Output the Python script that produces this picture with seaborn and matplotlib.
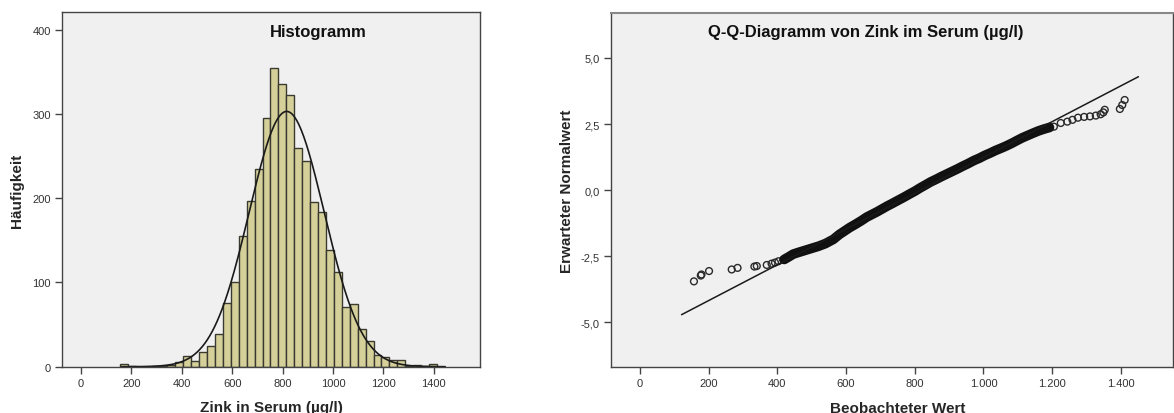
import numpy as np
import pandas as pd
import matplotlib
matplotlib.use("Agg")
import matplotlib.pyplot as plt
import seaborn as sns

# ---------------- data ----------------
# Histogram: bin start / width and counts per bin
hist_bin_start = 154.4
hist_bin_width = 31.44
hist_counts = [3, 1, 0, 0, 1, 1, 2, 5, 13, 7, 18, 24, 39, 76, 100, 155, 197, 235,
               295, 354, 336, 323, 260, 244, 195, 184, 138, 112, 71, 74, 45, 30,
               14, 12, 8, 8, 1, 2, 1, 3]
# fitted normal curve parameters
norm_mean = 816.0
norm_sd = 148.5
norm_range = [160, 1445]

hist_xticks = [0, 200, 400, 600, 800, 1000, 1200, 1400]
hist_xticklabels = ["0", "200", "400", "600", "800", "1000", "1200", "1400"]
hist_yticks = [0, 100, 200, 300, 400]
hist_yticklabels = ["0", "100", "200", "300", "400"]

# Q-Q plot: observed value vs expected normal value
qq_observed = [157, 177, 179, 201, 267, 284, 333, 340, 369, 383, 393, 403, 417,
               420, 432, 446, 460, 480, 500, 520, 540, 563, 580, 595, 610, 626,
               645, 660, 675, 690, 705, 720, 735, 752, 768, 783, 800, 815, 830,
               846, 862, 877, 893, 909, 925, 940, 956, 972, 988, 1003, 1019,
               1035, 1050, 1066, 1082, 1098, 1113, 1129, 1145, 1160, 1176, 1192,
               1205, 1225, 1244, 1259, 1275, 1293, 1310, 1327, 1341, 1349, 1353,
               1397, 1404, 1411]
qq_expected = [-3.45, -3.23, -3.19, -3.06, -3.00, -2.94, -2.89, -2.87, -2.83,
               -2.78, -2.74, -2.69, -2.63,
               -2.62, -2.53, -2.42, -2.36, -2.28, -2.20, -2.12, -2.02, -1.86,
               -1.68, -1.55, -1.42, -1.30, -1.15, -1.02, -0.92, -0.82, -0.71,
               -0.60, -0.50, -0.38, -0.27, -0.16, -0.04, 0.08, 0.19, 0.31, 0.41,
               0.51, 0.61, 0.71, 0.81, 0.91, 1.01, 1.12, 1.21, 1.31, 1.40, 1.50,
               1.58, 1.67, 1.77, 1.88, 1.98, 2.07, 2.16, 2.24, 2.31, 2.37,
               2.40, 2.54, 2.59, 2.66, 2.74, 2.77, 2.79, 2.82, 2.87, 2.94, 3.04,
               3.07, 3.22, 3.41]
# dense part of the point cloud (drawn as a solid band)
qq_dense_from = 420
qq_dense_to = 1192
# reference line end points
qq_line_x = [121, 1451]
qq_line_y = [-4.71, 4.29]

qq_xticks = [0, 200, 400, 600, 800, 1000, 1200, 1400]
qq_xticklabels = ["0", "200", "400", "600", "800", "1.000", "1.200", "1.400"]
qq_yticks = [-5.0, -2.5, 0.0, 2.5, 5.0]
qq_yticklabels = ["-5,0", "-2,5", "0,0", "2,5", "5,0"]

# ---------------- style ----------------
sns.set_style("ticks")
plt.rcParams["font.family"] = ["Liberation Sans", "DejaVu Sans"]

BG = "#F0F0F0"
FRAME = "#444444"
TICKTXT = "#333333"
BAR = "#D5D09A"
BAREDGE = "#3A3A30"

fig = plt.figure(figsize=(11.74, 4.14), dpi=100)
W, H = 1174.0, 414.0
ax1 = fig.add_axes([62 / W, (H - 367.7) / H, 418 / W, 354.4 / H])
ax2 = fig.add_axes([610.7 / W, (H - 368.3) / H, 562.3 / W, 354.3 / H])


def style_axes(ax):
    ax.set_facecolor(BG)
    for s in ax.spines.values():
        s.set_color(FRAME)
        s.set_linewidth(1.0)
    ax.tick_params(axis="both", direction="out", length=5, width=1,
                   color=FRAME, labelsize=8, labelcolor=TICKTXT, pad=3,
                   top=False, right=False)


# ---------------- histogram ----------------
n_bins = len(hist_counts)
centers = [hist_bin_start + hist_bin_width * (i + 0.5) for i in range(n_bins)]
hist_df = pd.DataFrame({"value": centers, "count": hist_counts})
sns.histplot(data=hist_df, x="value", weights="count",
             binwidth=hist_bin_width,
             binrange=(hist_bin_start, hist_bin_start + hist_bin_width * n_bins),
             ax=ax1, color=BAR, edgecolor=BAREDGE, linewidth=1.0, alpha=1.0)

xs = np.linspace(norm_range[0], norm_range[1], 400)
n_total = float(np.sum(hist_counts))
ys = n_total * hist_bin_width * np.exp(-0.5 * ((xs - norm_mean) / norm_sd) ** 2) / (norm_sd * np.sqrt(2 * np.pi))
sns.lineplot(x=xs, y=ys, ax=ax1, color="#1a1a1a", linewidth=1.2, sort=False)

style_axes(ax1)
ax1.set_xlim(-75.4, 1583)
ax1.set_ylim(0, 420.6)
ax1.set_xticks(hist_xticks)
ax1.set_xticklabels(hist_xticklabels)
ax1.set_yticks(hist_yticks)
ax1.set_yticklabels(hist_yticklabels)
ax1.set_xlabel("Zink in Serum (µg/l)", fontsize=11, fontweight="bold")
ax1.set_ylabel("Häufigkeit", fontsize=11, fontweight="bold")
ax1.xaxis.set_label_coords(0.5, -0.094)
ax1.yaxis.set_label_coords(-0.092, 0.5)
ax1.text(0.612, 0.947, "Histogramm", transform=ax1.transAxes, ha="center",
         va="center", fontsize=12, fontweight="bold", color="#111111")

# ---------------- Q-Q plot ----------------
qq_df = pd.DataFrame({"obs": qq_observed, "exp": qq_expected})
dense = qq_df[(qq_df["obs"] >= qq_dense_from) & (qq_df["obs"] <= qq_dense_to)]
sns.lineplot(data=dense, x="obs", y="exp", ax=ax2, color="#111111",
             linewidth=7, sort=True, solid_capstyle="round")
sns.lineplot(x=qq_line_x, y=qq_line_y, ax=ax2, color="#1a1a1a", linewidth=1.1)
sns.scatterplot(data=qq_df, x="obs", y="exp", ax=ax2, s=24, marker="o",
                facecolor="none", edgecolor="#2a2a2a", linewidth=1.0)

style_axes(ax2)
ax2.spines["top"].set_color("#888888")
ax2.spines["top"].set_linewidth(1.5)
ax2.set_xlim(-85.3, 1551.7)
ax2.set_ylim(-6.7, 6.7)
ax2.set_xticks(qq_xticks)
ax2.set_xticklabels(qq_xticklabels)
ax2.set_yticks(qq_yticks)
ax2.set_yticklabels(qq_yticklabels)
ax2.set_xlabel("Beobachteter Wert", fontsize=11, fontweight="bold")
ax2.set_ylabel("Erwarteter Normalwert", fontsize=11, fontweight="bold")
ax2.xaxis.set_label_coords(0.511, -0.095)
ax2.yaxis.set_label_coords(-0.065, 0.5)
ax2.text(0.454, 0.949, "Q-Q-Diagramm von Zink im Serum (µg/l)",
         transform=ax2.transAxes, ha="center", va="center", fontsize=12,
         fontweight="bold", color="#111111")

fig.savefig("out.png", dpi=100, facecolor="white")
